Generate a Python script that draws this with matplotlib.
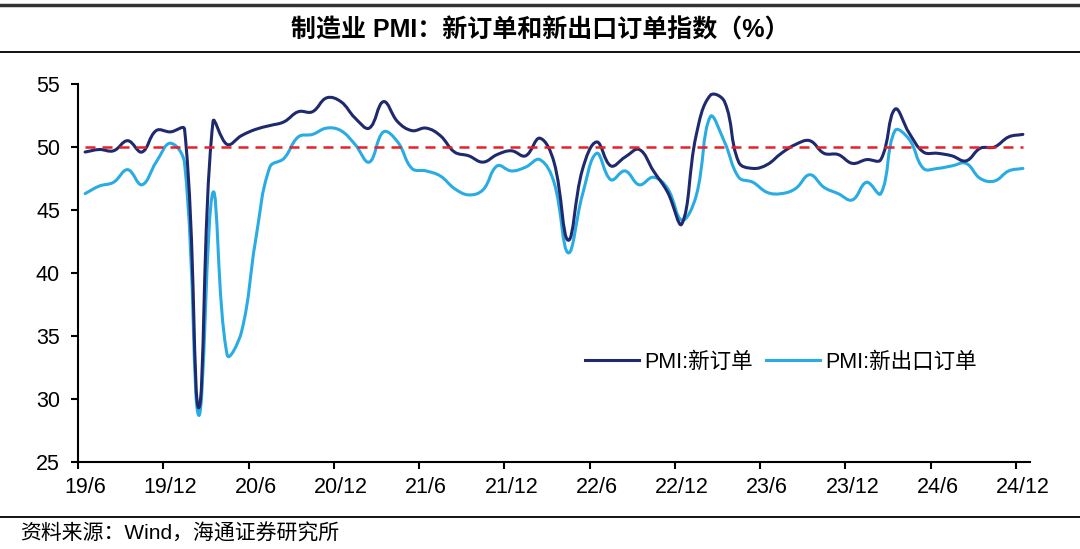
import numpy as np
import matplotlib
matplotlib.use("Agg")
import matplotlib.pyplot as plt
from matplotlib.path import Path
from matplotlib.patches import PathPatch
from matplotlib.lines import Line2D

plt.rcParams['font.family'] = ['Liberation Sans', 'Noto Sans CJK SC', 'DejaVu Sans']

# monthly data, 2019/6 .. 2024/12
new_orders = [49.6, 49.8, 49.7, 50.5, 49.6, 51.3, 51.2,
              51.4, 29.3, 52.0, 50.2, 50.9, 51.4, 51.7, 52.0, 52.8, 52.8, 53.9, 53.6,
              52.3, 51.5, 53.6, 52.0, 51.3, 51.5, 50.9, 49.6, 49.3, 48.8, 49.4, 49.7,
              49.3, 50.7, 48.8, 42.6, 48.2, 50.4, 48.5, 49.2, 49.8, 48.1, 46.4, 43.9,
              50.9, 54.1, 53.6, 48.8, 48.3, 48.6, 49.5, 50.2, 50.5, 49.5, 49.4, 48.7,
              49.0, 49.0, 53.0, 51.1, 49.6, 49.5, 49.3, 48.9, 49.9, 50.0, 50.8, 51.0]
export_orders = [46.3, 46.9, 47.2, 48.2, 47.0, 48.8, 50.3,
                 48.7, 28.7, 46.4, 33.5, 35.3, 42.6, 48.4, 49.1, 50.8, 51.0, 51.5, 51.3,
                 50.2, 48.8, 51.2, 50.4, 48.3, 48.1, 47.7, 46.7, 46.2, 46.6, 48.5, 48.1,
                 48.4, 49.0, 47.2, 41.6, 46.2, 49.5, 47.4, 48.1, 47.0, 47.6, 46.7, 44.2,
                 46.1, 52.4, 50.4, 47.6, 47.2, 46.4, 46.3, 46.7, 47.8, 46.8, 46.3, 45.8,
                 47.2, 46.3, 51.3, 50.6, 48.3, 48.3, 48.5, 48.7, 47.5, 47.3, 48.1, 48.3]
tick_labels = ['19/6', '19/12', '20/6', '20/12', '21/6', '21/12',
               '22/6', '22/12', '23/6', '23/12', '24/6', '24/12']
series_names = ['PMI:新订单', 'PMI:新出口订单']
colors = ['#1f2a6e', '#29ace3']


def smooth_path(y, sx=14.2, sy=12.6, t=0.4):
    # excel-like smoothed line as bezier path, control points worked out in pixel space
    y = np.asarray(y, float)
    n = len(y)
    P = np.column_stack([np.arange(n) * sx, y * sy])
    c_in = P.copy()
    c_out = P.copy()
    for i in range(n):
        a = P[max(i - 1, 0)]
        b = P[min(i + 1, n - 1)]
        T = b - a
        d1 = np.linalg.norm(P[i] - a)
        d2 = np.linalg.norm(b - P[i])
        if d1 + d2 == 0:
            continue
        c_in[i] = P[i] - t * T * d1 / (d1 + d2)
        c_out[i] = P[i] + t * T * d2 / (d1 + d2)
    verts = [P[0]]
    codes = [Path.MOVETO]
    for i in range(n - 1):
        verts += [c_out[i], c_in[i + 1], P[i + 1]]
        codes += [Path.CURVE4] * 3
    verts = np.array(verts) / [sx, sy]
    return Path(verts, codes)


fig = plt.figure(figsize=(10.8, 5.49), dpi=100)
ax = fig.add_axes([78 / 1080, 1 - 462 / 549, 952 / 1080, 378 / 549])

n = len(new_orders)
ax.hlines(50, 0, n - 1, colors='#e8202a', linewidth=1.8, linestyles=(0, (4, 2.8)), zorder=3)
for vals, c in zip([new_orders, export_orders][::-1], colors[::-1]):
    ax.add_patch(PathPatch(smooth_path(vals), facecolor='none', edgecolor=c,
                           linewidth=2.2, capstyle='round', joinstyle='round', zorder=2))

ax.set_xlim(-0.5, n - 0.5)
ax.set_ylim(25, 55)
ax.set_yticks(range(25, 56, 5))
ax.set_xticks(np.arange(-0.5, n, 6))
ax.set_xticklabels([])
ax.set_xticks(np.arange(0, n, 6), minor=True)
ax.set_xticklabels(tick_labels, minor=True)
ax.tick_params(axis='x', which='major', direction='out', length=5, width=1.5)
ax.tick_params(axis='x', which='minor', length=0, pad=11, labelsize=15.5)
ax.tick_params(axis='y', direction='out', length=5, width=1.5, pad=8, labelsize=15.5)
for s in ['top', 'right']:
    ax.spines[s].set_visible(False)
for s in ['left', 'bottom']:
    ax.spines[s].set_linewidth(1.5)

handles = [Line2D([], [], color=c, linewidth=2.2) for c in colors]
fig.legend(handles, series_names, loc='center left', bbox_to_anchor=(585 / 1080, 1 - 362 / 549),
           ncol=2, frameon=False, fontsize=15.5, handlelength=2.5, handletextpad=0.25,
           columnspacing=0.6, borderpad=0, borderaxespad=0)

# header / footer
fig.add_artist(Line2D([0, 1], [1 - 4.5 / 549] * 2, color='#333333', linewidth=2.5))
fig.add_artist(Line2D([0, 1], [1 - 52 / 549] * 2, color='black', linewidth=1.3))
fig.add_artist(Line2D([0, 1], [1 - 517 / 549] * 2, color='black', linewidth=1.3))
fig.text(0.5, 1 - 30 / 549, '制造业 PMI：新订单和新出口订单指数（%）', ha='center', va='center',
         fontsize=18, fontweight='bold')
fig.text(20 / 1080, 1 - 534 / 549, '资料来源：Wind，海通证券研究所', ha='left', va='center', fontsize=15)

fig.savefig('out.png', dpi=100)
